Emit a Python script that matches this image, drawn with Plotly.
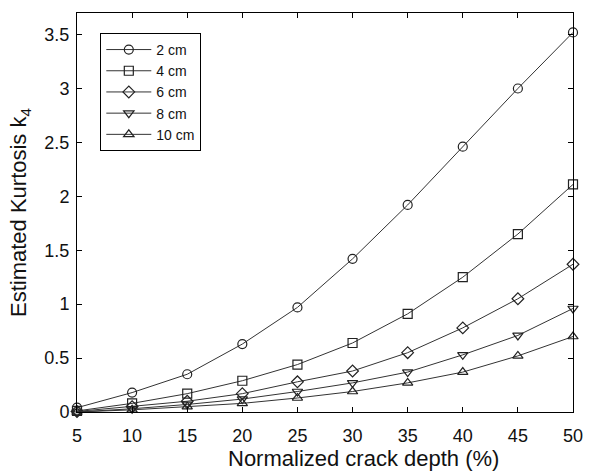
import plotly.graph_objects as go

# Normalized crack depth (%)
depth = [5, 10, 15, 20, 25, 30, 35, 40, 45, 50]

# Estimated kurtosis for each crack length
k4_2cm = [0.04, 0.18, 0.35, 0.63, 0.97, 1.42, 1.92, 2.46, 3.00, 3.52]
k4_4cm = [0.01, 0.08, 0.17, 0.29, 0.44, 0.64, 0.91, 1.25, 1.65, 2.11]
k4_6cm = [0.005, 0.05, 0.10, 0.17, 0.28, 0.38, 0.55, 0.78, 1.05, 1.37]
k4_8cm = [0.0, 0.03, 0.07, 0.12, 0.19, 0.27, 0.37, 0.53, 0.71, 0.96]
k4_10cm = [0.0, 0.02, 0.05, 0.08, 0.13, 0.19, 0.27, 0.37, 0.52, 0.70]

y_ticks = [0, 0.5, 1, 1.5, 2, 2.5, 3, 3.5]
y_ticktext = ["0", "0.5", "1", "1.5", "2", "2.5", "3", "3.5"]

series = [
    ("2 cm", k4_2cm, "circle-open"),
    ("4 cm", k4_4cm, "square-open"),
    ("6 cm", k4_6cm, "diamond-open"),
    ("8 cm", k4_8cm, "triangle-down-open"),
    ("10 cm", k4_10cm, "triangle-up-open"),
]

FONT = "Liberation Sans, Arial, Helvetica, sans-serif"

fig = go.Figure()
for name, vals, sym in series:
    fig.add_trace(go.Scatter(
        x=depth, y=vals, name=name, mode="lines+markers",
        line=dict(color="#333333", width=1),
        marker=dict(symbol=sym, size=9, color="#222222",
                    line=dict(width=1.2, color="#222222")),
        cliponaxis=False,
    ))

axis_common = dict(
    showline=True, linecolor="black", linewidth=1, mirror="ticks",
    ticks="inside", ticklen=5, tickcolor="black", tickwidth=1,
    showgrid=False, zeroline=False,
    tickfont=dict(family=FONT, size=18, color="#111111"),
)

fig.update_layout(
    width=595, height=471,
    margin=dict(l=77, r=13, t=13, b=59),
    paper_bgcolor="white", plot_bgcolor="white",
    font=dict(family=FONT, color="#111111"),
    xaxis=dict(range=[5, 50], tickvals=depth, ticklabelstandoff=7,
               **axis_common),
    yaxis=dict(range=[0, 3.7], tickvals=y_ticks, ticktext=y_ticktext,
               ticklabelstandoff=3,
               title=dict(text="Estimated Kurtosis k<sub>4</sub>",
                          font=dict(family=FONT, size=22), standoff=11),
               **axis_common),
    legend=dict(x=0.047, y=0.95, xanchor="left", yanchor="top",
                bgcolor="white", bordercolor="black", borderwidth=1,
                font=dict(family=FONT, size=14), itemwidth=45,
                tracegroupgap=0),
    showlegend=True,
    annotations=[dict(
        text="Normalized crack depth (%)", xref="paper", yref="paper",
        x=0.578, y=-0.1153, xanchor="center", yanchor="middle",
        showarrow=False, font=dict(family=FONT, size=22, color="#111111"),
    )],
)

fig.write_html("out.html")
